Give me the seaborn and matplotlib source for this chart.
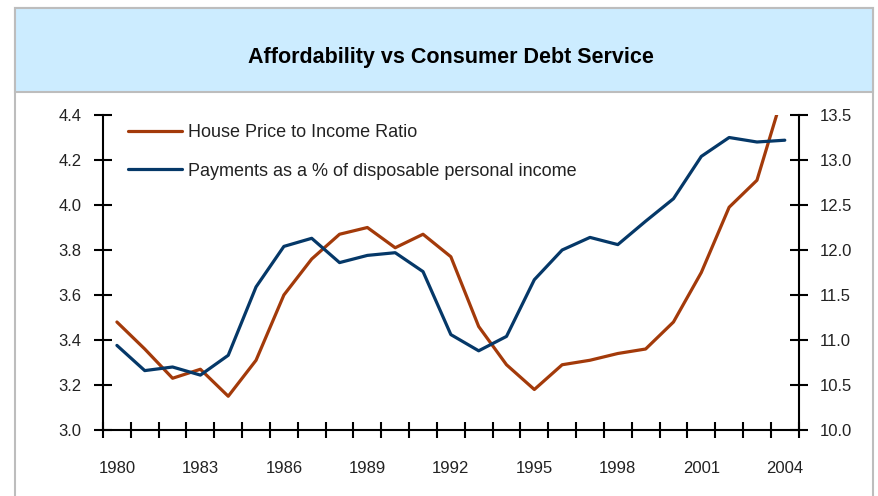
import matplotlib
matplotlib.use("Agg")
import matplotlib.pyplot as plt
from matplotlib.patches import Rectangle
from matplotlib.lines import Line2D
import seaborn as sns
import pandas as pd

years = list(range(1980, 2005))
house_price_ratio = [3.48, 3.36, 3.23, 3.27, 3.15, 3.31, 3.60, 3.76, 3.87, 3.90,
                     3.81, 3.87, 3.77, 3.46, 3.29, 3.18, 3.29, 3.31, 3.34, 3.36,
                     3.48, 3.70, 3.99, 4.11, 4.52]
payments_pct = [10.94, 10.66, 10.70, 10.61, 10.83, 11.59, 12.04, 12.13, 11.86, 11.94,
                11.97, 11.76, 11.06, 10.88, 11.04, 11.67, 12.00, 12.14, 12.06, 12.32,
                12.57, 13.04, 13.25, 13.20, 13.22]
label_house = "House Price to Income Ratio"
label_pay = "Payments as a % of disposable personal income"
title = "Affordability vs Consumer Debt Service"
left_ticks = [3.0, 3.2, 3.4, 3.6, 3.8, 4.0, 4.2, 4.4]
right_ticks = [10.0, 10.5, 11.0, 11.5, 12.0, 12.5, 13.0, 13.5]
year_labels = years[::3]

sns.set_theme(style="white")
plt.rcParams['font.family'] = ['Liberation Sans', 'DejaVu Sans']

df = pd.DataFrame({"year": years, "house": house_price_ratio, "pay": payments_pct})

W, H = 879, 496
fig = plt.figure(figsize=(W / 100, H / 100), dpi=100)
fig.patch.set_facecolor("white")

def fx(px):
    return px / W

def fy(py):
    return 1 - py / H

# outer frame and title banner
frame = Rectangle((fx(15), -0.01), fx(873) - fx(15), fy(8) + 0.01, transform=fig.transFigure,
                  facecolor="white", edgecolor="#BDBDBD", lw=1.5, zorder=-2)
fig.patches.append(frame)
banner = Rectangle((fx(15), fy(92)), fx(873) - fx(15), fy(8) - fy(92), transform=fig.transFigure,
                   facecolor="#CCECFF", edgecolor="#BDBDBD", lw=1.5, zorder=-1)
fig.patches.append(banner)
fig.text(fx(451), fy(57), title, ha="center", va="center", fontsize=15.5,
         fontweight="bold", color="black")

red = "#A33A0A"
blue = "#053868"

ax = fig.add_axes([fx(103), fy(430), fx(798.7) - fx(103), fy(115) - fy(430)])
ax.set_facecolor("none")
sns.lineplot(data=df, x="year", y="house", ax=ax, color=red, lw=2.3, legend=False)
ax2 = ax.twinx()
ax2.set_facecolor("none")
sns.lineplot(data=df, x="year", y="pay", ax=ax2, color=blue, lw=2.3, legend=False)

ax.set_xlim(1979.5, 2004.5)
ax.set_ylim(3.0, 4.4)
ax2.set_ylim(10.0, 13.5)

ax.set_yticks(left_ticks)
ax.set_yticklabels([f"{v:.1f}" for v in left_ticks])
ax2.set_yticks(right_ticks)
ax2.set_yticklabels([f"{v:.1f}" for v in right_ticks])

ax.set_xticks(year_labels)
ax.set_xticklabels([str(y) for y in year_labels])
ax.set_xticks([y - 0.5 for y in years] + [years[-1] + 0.5], minor=True)

ax.set_xlabel("")
ax.set_ylabel("")
ax2.set_ylabel("")

for a in (ax, ax2):
    for s in a.spines.values():
        s.set_visible(False)
    a.grid(False)

ax.spines["left"].set_visible(True)
ax.spines["bottom"].set_visible(True)
ax2.spines["right"].set_visible(True)
for s in (ax.spines["left"], ax.spines["bottom"], ax2.spines["right"]):
    s.set_color("black")
    s.set_linewidth(1.5)

ax.tick_params(axis="y", which="major", direction="inout", length=13, width=1.5,
               color="black", labelsize=12, labelcolor="#222222", pad=9, left=True)
ax2.tick_params(axis="y", which="major", direction="inout", length=13, width=1.5,
                color="black", labelsize=12, labelcolor="#222222", pad=9, right=True)
ax.tick_params(axis="x", which="major", length=0, labelsize=12, labelcolor="#222222", pad=22)
ax.tick_params(axis="x", which="minor", direction="inout", length=11, width=1.5,
               color="black", bottom=True)

handles = [Line2D([], [], color=red, lw=2.3), Line2D([], [], color=blue, lw=2.3)]
leg = ax2.legend(handles, [label_house, label_pay], loc="upper left",
                 bbox_to_anchor=(25 / 695.7, 1 - 9 / 315), frameon=False,
                 fontsize=13, handlelength=3.0, handletextpad=0.3,
                 labelspacing=1.2, borderpad=0, borderaxespad=0)
for t in leg.get_texts():
    t.set_color("#222222")

fig.savefig("out.png", dpi=100)
